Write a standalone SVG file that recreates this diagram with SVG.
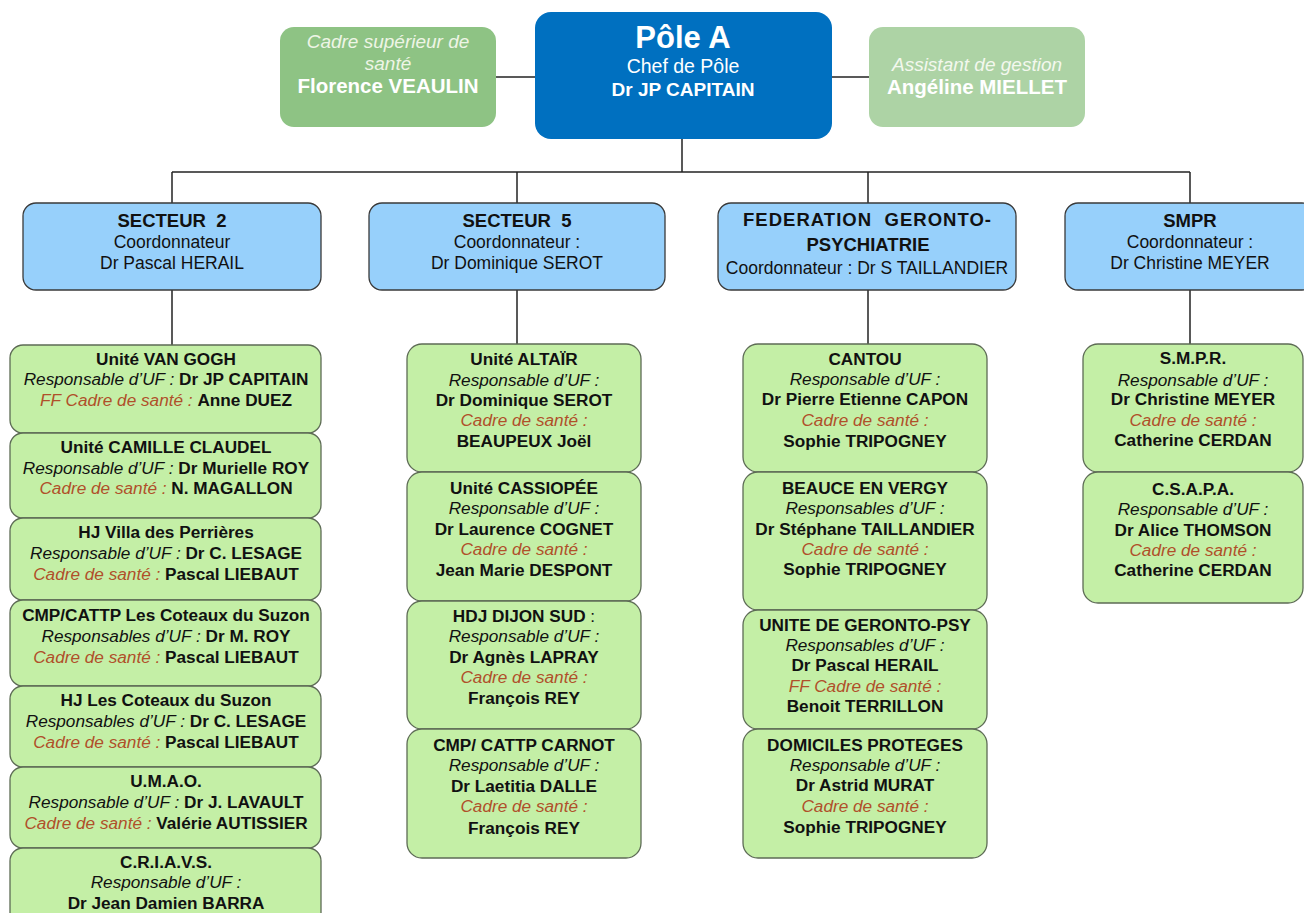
<svg xmlns="http://www.w3.org/2000/svg" width="1304" height="913" viewBox="0 0 1304 913">
  <style>
    text { font-family: "Liberation Sans", Arial, sans-serif; text-anchor: middle; }
    .head { fill: #0070C0; }
    .side1 { fill: #8EC384; }
    .side2 { fill: #ADD3A5; }
    .sect { fill: #97D0FB; stroke: #3a3a3a; stroke-width: 1.3; }
    .unit { fill: #C4EFA6; stroke: #5d6b55; stroke-width: 1.3; }
    .conn { stroke: #222; stroke-width: 1.5; fill: none; }
    .u { font-size: 17.2px; fill: #111; }
    .b { font-weight: bold; }
    .i { font-style: italic; }
    .cs { font-style: italic; fill: #B0502A; }
    .s { font-size: 17.5px; fill: #111; }
    .st { font-size: 18.5px; font-weight: bold; fill: #111; white-space: pre; }
  </style>

  <!-- connectors -->
  <g id="connectors" class="conn">
    <line x1="496" y1="77" x2="535" y2="77"/>
    <line x1="832" y1="77" x2="869" y2="77"/>
    <line x1="682" y1="139" x2="682" y2="172"/>
    <line x1="172" y1="172" x2="1190" y2="172"/>
    <line x1="172" y1="172" x2="172" y2="203"/>
    <line x1="517" y1="172" x2="517" y2="203"/>
    <line x1="868" y1="172" x2="868" y2="203"/>
    <line x1="1190" y1="172" x2="1190" y2="203"/>
    <line x1="172" y1="290" x2="172" y2="345"/>
    <line x1="517" y1="290" x2="517" y2="344"/>
    <line x1="868" y1="290" x2="868" y2="344"/>
    <line x1="1190" y1="290" x2="1190" y2="344"/>
  </g>

  <!-- top level -->
  <g id="pole">
    <rect class="head" x="535" y="12" width="297" height="127" rx="16"/>
    <text x="683" y="48" style="font-size:31px;font-weight:bold;fill:#fff">Pôle A</text>
    <text x="683" y="73" style="font-size:19.5px;fill:#fff">Chef de Pôle</text>
    <text x="683" y="96" style="font-size:19px;font-weight:bold;fill:#fff">Dr JP CAPITAIN</text>
  </g>
  <g id="cadre-sup">
    <rect class="side1" x="280" y="27" width="216" height="100" rx="14"/>
    <text x="388" y="48" style="font-size:19px;font-style:italic;fill:#EEF5E6">Cadre supérieur de</text>
    <text x="388" y="70" style="font-size:19px;font-style:italic;fill:#EEF5E6">santé</text>
    <text x="388" y="93" style="font-size:20.5px;font-weight:bold;fill:#fff">Florence VEAULIN</text>
  </g>
  <g id="assistant">
    <rect class="side2" x="869" y="27" width="216" height="100" rx="14"/>
    <text x="977" y="71" style="font-size:19px;font-style:italic;fill:#F3F8EE">Assistant de gestion</text>
    <text x="977" y="94" style="font-size:20.5px;font-weight:bold;fill:#fff">Angéline MIELLET</text>
  </g>

  <!-- sectors -->
  <g id="secteur-2">
    <rect class="sect" x="23" y="203" width="298" height="87" rx="13"/>
    <text class="st" x="172" y="227">SECTEUR  2</text>
    <text class="s" x="172" y="248">Coordonnateur</text>
    <text class="s" x="172" y="269">Dr Pascal HERAIL</text>
  </g>
  <g id="secteur-5">
    <rect class="sect" x="369" y="203" width="296" height="87" rx="13"/>
    <text class="st" x="517" y="227">SECTEUR  5</text>
    <text class="s" x="517" y="248">Coordonnateur :</text>
    <text class="s" x="517" y="269">Dr Dominique SEROT</text>
  </g>
  <g id="federation">
    <rect class="sect" x="718" y="203" width="298" height="87" rx="13"/>
    <text class="st" x="867" y="226" textLength="248">FEDERATION  GERONTO-</text>
    <text class="st" x="868" y="251">PSYCHIATRIE</text>
    <text class="s" x="867" y="274">Coordonnateur : Dr S TAILLANDIER</text>
  </g>
  <g id="smpr">
    <rect class="sect" x="1065" y="203" width="250" height="87" rx="13"/>
    <text class="st" x="1190" y="227">SMPR</text>
    <text class="s" x="1190" y="248">Coordonnateur :</text>
    <text class="s" x="1190" y="269">Dr Christine MEYER</text>
  </g>

  <!-- secteur 2 units -->
  <g id="van-gogh">
    <rect class="unit" x="10" y="345" width="311" height="88" rx="13"/>
    <text class="u b" x="166" y="365">Unité VAN GOGH</text>
    <text class="u" x="166" y="385"><tspan class="i">Responsable d’UF : </tspan><tspan class="b">Dr JP CAPITAIN</tspan></text>
    <text class="u" x="166" y="406"><tspan class="cs">FF Cadre de santé : </tspan><tspan class="b">Anne DUEZ</tspan></text>
  </g>
  <g id="camille-claudel">
    <rect class="unit" x="10" y="433" width="311" height="85" rx="13"/>
    <text class="u b" x="166" y="453">Unité CAMILLE  CLAUDEL</text>
    <text class="u" x="166" y="474"><tspan class="i">Responsable d’UF : </tspan><tspan class="b">Dr Murielle ROY</tspan></text>
    <text class="u" x="166" y="494"><tspan class="cs">Cadre de santé : </tspan><tspan class="b">N. MAGALLON</tspan></text>
  </g>
  <g id="villa-perrieres">
    <rect class="unit" x="10" y="518" width="311" height="82" rx="13"/>
    <text class="u b" x="166" y="538">HJ Villa des Perrières</text>
    <text class="u" x="166" y="559"><tspan class="i">Responsable d’UF : </tspan><tspan class="b">Dr C. LESAGE</tspan></text>
    <text class="u" x="166" y="580"><tspan class="cs">Cadre de santé : </tspan><tspan class="b">Pascal LIEBAUT</tspan></text>
  </g>
  <g id="cmp-coteaux">
    <rect class="unit" x="10" y="600" width="311" height="86" rx="13"/>
    <text class="u b" x="166" y="621">CMP/CATTP Les Coteaux du Suzon</text>
    <text class="u" x="166" y="642"><tspan class="i">Responsables d’UF : </tspan><tspan class="b">Dr M. ROY</tspan></text>
    <text class="u" x="166" y="663"><tspan class="cs">Cadre de santé : </tspan><tspan class="b">Pascal LIEBAUT</tspan></text>
  </g>
  <g id="hj-coteaux">
    <rect class="unit" x="10" y="686" width="311" height="81" rx="13"/>
    <text class="u b" x="166" y="706">HJ Les Coteaux du Suzon</text>
    <text class="u" x="166" y="727"><tspan class="i">Responsables d’UF : </tspan><tspan class="b">Dr C. LESAGE</tspan></text>
    <text class="u" x="166" y="748"><tspan class="cs">Cadre de santé : </tspan><tspan class="b">Pascal LIEBAUT</tspan></text>
  </g>
  <g id="umao">
    <rect class="unit" x="10" y="767" width="311" height="81" rx="13"/>
    <text class="u b" x="166" y="787">U.M.A.O.</text>
    <text class="u" x="166" y="808"><tspan class="i">Responsable d’UF : </tspan><tspan class="b">Dr J. LAVAULT</tspan></text>
    <text class="u" x="166" y="829"><tspan class="cs">Cadre de santé : </tspan><tspan class="b">Valérie AUTISSIER</tspan></text>
  </g>
  <g id="criavs">
    <rect class="unit" x="10" y="848" width="311" height="80" rx="13"/>
    <text class="u b" x="166" y="868">C.R.I.A.V.S.</text>
    <text class="u i" x="166" y="888">Responsable d’UF :</text>
    <text class="u b" x="166" y="909">Dr Jean Damien BARRA</text>
  </g>

  <!-- secteur 5 units -->
  <g id="altair">
    <rect class="unit" x="407" y="344" width="234" height="128" rx="15"/>
    <text class="u b" x="524" y="365">Unité ALTAÏR</text>
    <text class="u i" x="524" y="386">Responsable d’UF :</text>
    <text class="u b" x="524" y="406">Dr Dominique  SEROT</text>
    <text class="u cs" x="524" y="426">Cadre de santé :</text>
    <text class="u b" x="524" y="447">BEAUPEUX Joël</text>
  </g>
  <g id="cassiopee">
    <rect class="unit" x="407" y="472" width="234" height="129" rx="15"/>
    <text class="u b" x="524" y="494">Unité CASSIOPÉE</text>
    <text class="u i" x="524" y="514">Responsable d’UF :</text>
    <text class="u b" x="524" y="535">Dr Laurence COGNET</text>
    <text class="u cs" x="524" y="555">Cadre de santé :</text>
    <text class="u b" x="524" y="576">Jean Marie DESPONT</text>
  </g>
  <g id="hdj-dijon">
    <rect class="unit" x="407" y="601" width="234" height="128" rx="15"/>
    <text class="u" x="524" y="622"><tspan class="b">HDJ DIJON  SUD</tspan> :</text>
    <text class="u i" x="524" y="642">Responsable d’UF :</text>
    <text class="u b" x="524" y="663">Dr Agnès LAPRAY</text>
    <text class="u cs" x="524" y="683">Cadre de santé :</text>
    <text class="u b" x="524" y="704">François REY</text>
  </g>
  <g id="cmp-carnot">
    <rect class="unit" x="407" y="729" width="234" height="129" rx="15"/>
    <text class="u b" x="524" y="751">CMP/ CATTP CARNOT</text>
    <text class="u i" x="524" y="771">Responsable d’UF :</text>
    <text class="u b" x="524" y="792">Dr Laetitia DALLE</text>
    <text class="u cs" x="524" y="812">Cadre de santé :</text>
    <text class="u b" x="524" y="834">François REY</text>
  </g>

  <!-- federation units -->
  <g id="cantou">
    <rect class="unit" x="743" y="344" width="244" height="128" rx="15"/>
    <text class="u b" x="865" y="365">CANTOU</text>
    <text class="u i" x="865" y="385">Responsable d’UF :</text>
    <text class="u b" x="865" y="405">Dr Pierre Etienne CAPON</text>
    <text class="u cs" x="865" y="426">Cadre de santé :</text>
    <text class="u b" x="865" y="447">Sophie TRIPOGNEY</text>
  </g>
  <g id="beauce">
    <rect class="unit" x="743" y="472" width="244" height="138" rx="15"/>
    <text class="u b" x="865" y="494">BEAUCE EN VERGY</text>
    <text class="u i" x="865" y="514">Responsables d’UF :</text>
    <text class="u b" x="865" y="535">Dr Stéphane TAILLANDIER</text>
    <text class="u cs" x="865" y="555">Cadre de santé :</text>
    <text class="u b" x="865" y="575">Sophie TRIPOGNEY</text>
  </g>
  <g id="geronto-psy">
    <rect class="unit" x="743" y="610" width="244" height="119" rx="15"/>
    <text class="u b" x="865" y="631">UNITE DE GERONTO-PSY</text>
    <text class="u i" x="865" y="651">Responsables d’UF :</text>
    <text class="u b" x="865" y="671">Dr Pascal HERAIL</text>
    <text class="u cs" x="865" y="692">FF Cadre de santé :</text>
    <text class="u b" x="865" y="712">Benoit TERRILLON</text>
  </g>
  <g id="domiciles">
    <rect class="unit" x="743" y="729" width="244" height="129" rx="15"/>
    <text class="u b" x="865" y="751">DOMICILES PROTEGES</text>
    <text class="u i" x="865" y="771">Responsable d’UF :</text>
    <text class="u b" x="865" y="791">Dr Astrid MURAT</text>
    <text class="u cs" x="865" y="812">Cadre de santé :</text>
    <text class="u b" x="865" y="833">Sophie TRIPOGNEY</text>
  </g>

  <!-- smpr units -->
  <g id="smpr-unit">
    <rect class="unit" x="1083" y="344" width="220" height="128" rx="15"/>
    <text class="u b" x="1193" y="364">S.M.P.R.</text>
    <text class="u i" x="1193" y="386">Responsable d’UF :</text>
    <text class="u b" x="1193" y="405">Dr Christine MEYER</text>
    <text class="u cs" x="1193" y="426">Cadre de santé :</text>
    <text class="u b" x="1193" y="446">Catherine CERDAN</text>
  </g>
  <g id="csapa">
    <rect class="unit" x="1083" y="472" width="220" height="131" rx="15"/>
    <text class="u b" x="1193" y="495">C.S.A.P.A.</text>
    <text class="u i" x="1193" y="515">Responsable d’UF :</text>
    <text class="u b" x="1193" y="536">Dr Alice THOMSON</text>
    <text class="u cs" x="1193" y="556">Cadre de santé :</text>
    <text class="u b" x="1193" y="576">Catherine CERDAN</text>
  </g>
</svg>
